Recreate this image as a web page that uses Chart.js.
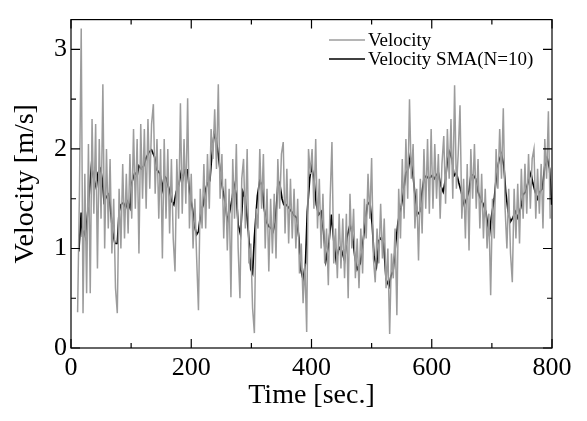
<!DOCTYPE html>
<html><head><meta charset="utf-8">
<script src="https://cdn.jsdelivr.net/npm/chart.js@4"></script>
<style>html,body{margin:0;padding:0;background:#fff;}</style>
</head><body>
<canvas id="c" width="587" height="421"></canvas>
<script>
const smaTime = [13,17,19,22,24,29,34,38,42,45,49,52,55,59,63,65,69,73,77,80,83,87,91,94,98,101,106,110,113,117,121,125,130,134,139,143,148,152,155,158,163,167,171,175,179,183,186,189,194,197,202,206,209,212,216,220,223,227,231,234,238,242,246,249,253,257,260,264,268,271,275,278,282,286,290,295,299,302,305,310,314,318,321,325,329,332,336,340,344,347,351,354,358,362,367,370,375,379,382,386,390,393,397,400,404,408,412,416,420,424,429,433,437,441,446,450,455,459,464,468,472,476,481,484,489,493,497,501,504,508,512,516,520,524,529,532,536,540,544,549,553,557,561,564,568,572,576,580,584,587,591,595,600,604,608,611,615,619,623,626,630,634,637,641,645,649,654,658,662,665,669,673,677,681,686,690,693,696,699,704,708,712,716,720,723,727,731,735,739,743,748,752,756,760,765,768,772,776,780,784,788,792,796,799];
const smaVel = [0.97,1.36,1.14,1.17,1.12,1.44,1.83,1.70,1.61,1.76,1.80,1.70,1.47,1.52,1.55,1.44,1.18,1.05,1.05,1.37,1.44,1.46,1.41,1.47,1.41,1.66,1.76,1.73,1.83,1.80,1.83,1.91,1.97,1.99,1.92,1.79,1.75,1.60,1.73,1.71,1.60,1.48,1.44,1.57,1.63,1.76,1.70,1.79,1.79,1.57,1.40,1.21,1.14,1.17,1.37,1.44,1.57,1.66,1.68,1.92,2.15,2.08,1.89,1.73,1.57,1.44,1.27,1.37,1.50,1.65,1.54,1.24,1.14,1.57,1.50,1.17,0.79,0.75,1.11,1.53,1.68,1.63,1.41,1.27,1.22,1.21,1.17,1.27,1.63,1.66,1.50,1.44,1.44,1.41,1.37,1.34,1.31,1.11,0.79,0.69,0.85,1.37,1.70,1.83,1.70,1.44,1.34,1.37,1.17,0.88,1.05,1.34,1.08,0.88,1.01,0.98,0.88,1.11,1.24,1.14,0.92,0.79,0.85,0.98,1.24,1.44,1.47,1.24,0.92,0.82,1.08,1.11,1.05,0.69,0.62,0.72,0.79,1.05,1.27,1.41,1.57,1.76,1.80,1.92,1.80,1.54,1.34,1.37,1.57,1.70,1.73,1.70,1.73,1.70,1.74,1.76,1.63,1.57,1.70,1.89,1.97,1.89,1.73,1.76,1.66,1.57,1.44,1.50,1.58,1.73,1.74,1.70,1.57,1.50,1.44,1.37,1.24,1.14,1.31,1.50,1.76,1.89,1.95,1.83,1.57,1.37,1.27,1.31,1.37,1.31,1.41,1.54,1.57,1.66,1.76,1.66,1.57,1.50,1.57,1.60,1.83,1.91,1.80,1.44];
const rawTime = [11,14,17,20,23,26,29,32,35,38,41,44,47,50,53,56,59,62,65,68,71,74,77,80,83,86,89,92,95,98,101,104,107,110,113,116,119,122,125,128,131,134,137,140,143,146,149,152,155,158,161,164,167,170,173,176,179,182,185,188,191,194,197,200,203,206,209,212,215,218,221,224,227,230,233,236,239,242,245,248,251,254,257,260,263,266,269,272,275,278,281,284,287,290,293,296,299,302,305,308,311,314,317,320,323,326,329,332,335,338,341,344,347,350,353,356,359,362,365,368,371,374,377,380,383,386,389,392,395,398,401,404,407,410,413,416,419,422,425,428,431,434,437,440,443,446,449,452,455,458,461,464,467,470,473,476,479,482,485,488,491,494,497,500,503,506,509,512,515,518,521,524,527,530,533,536,539,542,545,548,551,554,557,560,563,566,569,572,575,578,581,584,587,590,593,596,599,602,605,608,611,614,617,620,623,626,629,632,635,638,641,644,647,650,653,656,659,662,665,668,671,674,677,680,683,686,689,692,695,698,701,704,707,710,713,716,719,722,725,728,731,734,737,740,743,746,749,752,755,758,761,764,767,770,773,776,779,782,785,788,791,794,797];
const rawVel = [0.36,1.55,3.21,0.35,1.75,0.55,2.05,0.55,2.30,1.35,
2.25,0.80,2.10,1.30,2.65,1.00,2.00,1.20,1.90,0.95,
1.50,0.60,0.35,1.60,1.00,1.85,1.10,1.75,1.15,1.95,
1.30,2.20,1.40,2.10,0.95,2.25,1.50,2.20,1.40,2.30,
1.60,2.25,2.45,1.55,2.10,1.30,2.00,0.90,2.10,1.30,
2.00,1.15,1.90,1.10,0.77,1.90,1.30,2.46,1.35,2.10,
1.45,2.51,1.20,1.75,1.00,1.50,0.90,0.38,1.60,1.20,
1.85,1.20,1.95,1.40,2.20,1.90,2.40,1.80,2.65,1.50,
1.95,1.10,1.70,0.98,1.60,0.51,1.90,1.30,2.05,1.00,
0.50,1.70,1.90,1.20,2.00,0.85,1.05,0.40,0.15,1.40,
1.20,2.00,1.40,1.95,1.00,1.60,0.77,1.50,0.95,1.55,
0.90,1.90,1.40,1.95,2.07,1.15,1.80,1.05,1.70,1.10,
1.60,1.00,1.50,0.75,1.05,0.45,0.85,0.16,2.00,1.75,
2.00,1.40,2.10,1.20,1.70,1.00,1.55,0.85,1.20,0.63,
1.50,2.07,0.85,1.20,0.70,1.35,0.80,1.30,0.70,1.35,
0.50,1.55,1.00,1.40,0.70,1.10,0.60,1.20,0.75,1.50,
1.10,1.75,1.30,1.91,0.90,0.66,1.20,0.85,1.45,0.90,
1.30,0.60,1.00,0.14,0.95,0.70,1.20,0.33,1.60,1.10,
1.90,1.30,2.10,1.50,2.50,1.70,2.05,1.20,1.60,0.88,
1.70,1.15,2.00,1.40,2.10,1.35,2.20,1.40,2.05,1.50,
1.95,1.30,1.85,2.13,1.45,2.20,1.70,2.30,1.50,2.64,
1.60,1.95,2.44,1.30,1.70,1.10,1.85,0.98,2.00,1.50,
2.05,1.40,1.90,1.20,1.75,1.10,1.60,1.00,1.35,0.53,
1.50,1.10,2.00,1.60,2.20,1.70,2.41,1.40,1.00,1.60,
0.95,0.66,1.60,1.10,1.65,1.05,1.80,1.30,1.85,1.35,
1.95,1.40,1.90,2.00,1.30,1.80,1.35,1.85,1.20,2.10,1.70,2.38,1.30];
const xMajor = [0,200,400,600,800];
const xMinor = [100,300,500,700];
const yMajor = [0,1,2,3];
const yMinor = [0.5,1.5,2.5];
const legendLabels = ['Velocity','Velocity SMA(N=10)'];
const FONT = "'Liberation Serif', 'Times New Roman', Times, serif";

const rawPts = rawTime.map((t,i)=>({x:t,y:rawVel[i]}));
const smaPts = smaTime.map((t,i)=>({x:t,y:smaVel[i]}));

const framePlugin = {
  id:'frame',
  afterDatasetsDraw(chart){
    const {ctx, chartArea:a, scales:{x,y}} = chart;
    ctx.save();
    ctx.strokeStyle='#000'; ctx.lineWidth=1.2;
    ctx.strokeRect(a.left, a.top, a.right-a.left, a.bottom-a.top);
    ctx.beginPath();
    const xt=(v,len)=>{const p=x.getPixelForValue(v);ctx.moveTo(p,a.bottom);ctx.lineTo(p,a.bottom-len);ctx.moveTo(p,a.top);ctx.lineTo(p,a.top+len);};
    const yt=(v,len)=>{const p=y.getPixelForValue(v);ctx.moveTo(a.left,p);ctx.lineTo(a.left+len,p);ctx.moveTo(a.right,p);ctx.lineTo(a.right-len,p);};
    xMajor.forEach(v=>xt(v,9)); xMinor.forEach(v=>xt(v,5));
    yMajor.forEach(v=>yt(v,9)); yMinor.forEach(v=>yt(v,5));
    ctx.stroke();
    const ds = chart.data.datasets;
    ctx.font = '19px ' + FONT;
    ctx.textBaseline='middle'; ctx.textAlign='left'; ctx.fillStyle='#000';
    const rows=[40,59];
    ds.forEach((d,i)=>{
      ctx.beginPath(); ctx.strokeStyle=d.borderColor; ctx.lineWidth=d.borderWidth;
      ctx.moveTo(329,rows[i]); ctx.lineTo(365,rows[i]); ctx.stroke();
      ctx.fillText(d.label,368,rows[i]+1);
    });
    ctx.restore();
  }
};

new Chart(document.getElementById('c'),{
  type:'line',
  data:{datasets:[
    {label:legendLabels[0],data:rawPts,borderColor:'#9c9c9c',borderWidth:1.5,pointRadius:0,tension:0},
    {label:legendLabels[1],data:smaPts,borderColor:'#000000',borderWidth:1.7,pointRadius:0,tension:0}
  ]},
  options:{
    responsive:false,animation:false,devicePixelRatio:1,
    layout:{padding:{left:0,right:35,top:8,bottom:0}},
    plugins:{legend:{display:false},tooltip:{enabled:false}},
    scales:{
      x:{type:'linear',min:0,max:800,
        afterBuildTicks:s=>{s.ticks=xMajor.map(v=>({value:v}));},
        afterFit:s=>{s.height=73;},
        grid:{display:false,drawTicks:false},border:{display:false},
        ticks:{color:'#000',font:{family:FONT,size:26},padding:5,maxRotation:0,autoSkip:false},
        title:{display:true,text:'Time [sec.]',color:'#000',font:{family:FONT,size:28},padding:{top:0,bottom:9}}
      },
      y:{type:'linear',min:0,max:3.3,
        afterBuildTicks:s=>{s.ticks=yMajor.map(v=>({value:v}));},
        afterFit:s=>{s.width=71;},
        grid:{display:false,drawTicks:false},border:{display:false},
        ticks:{color:'#000',font:{family:FONT,size:26},padding:4},
        title:{display:true,text:'Velocity [m/s]',color:'#000',font:{family:FONT,size:28},padding:{top:9,bottom:0}}
      }
    }
  },
  plugins:[framePlugin]
});
</script>
</body></html>
